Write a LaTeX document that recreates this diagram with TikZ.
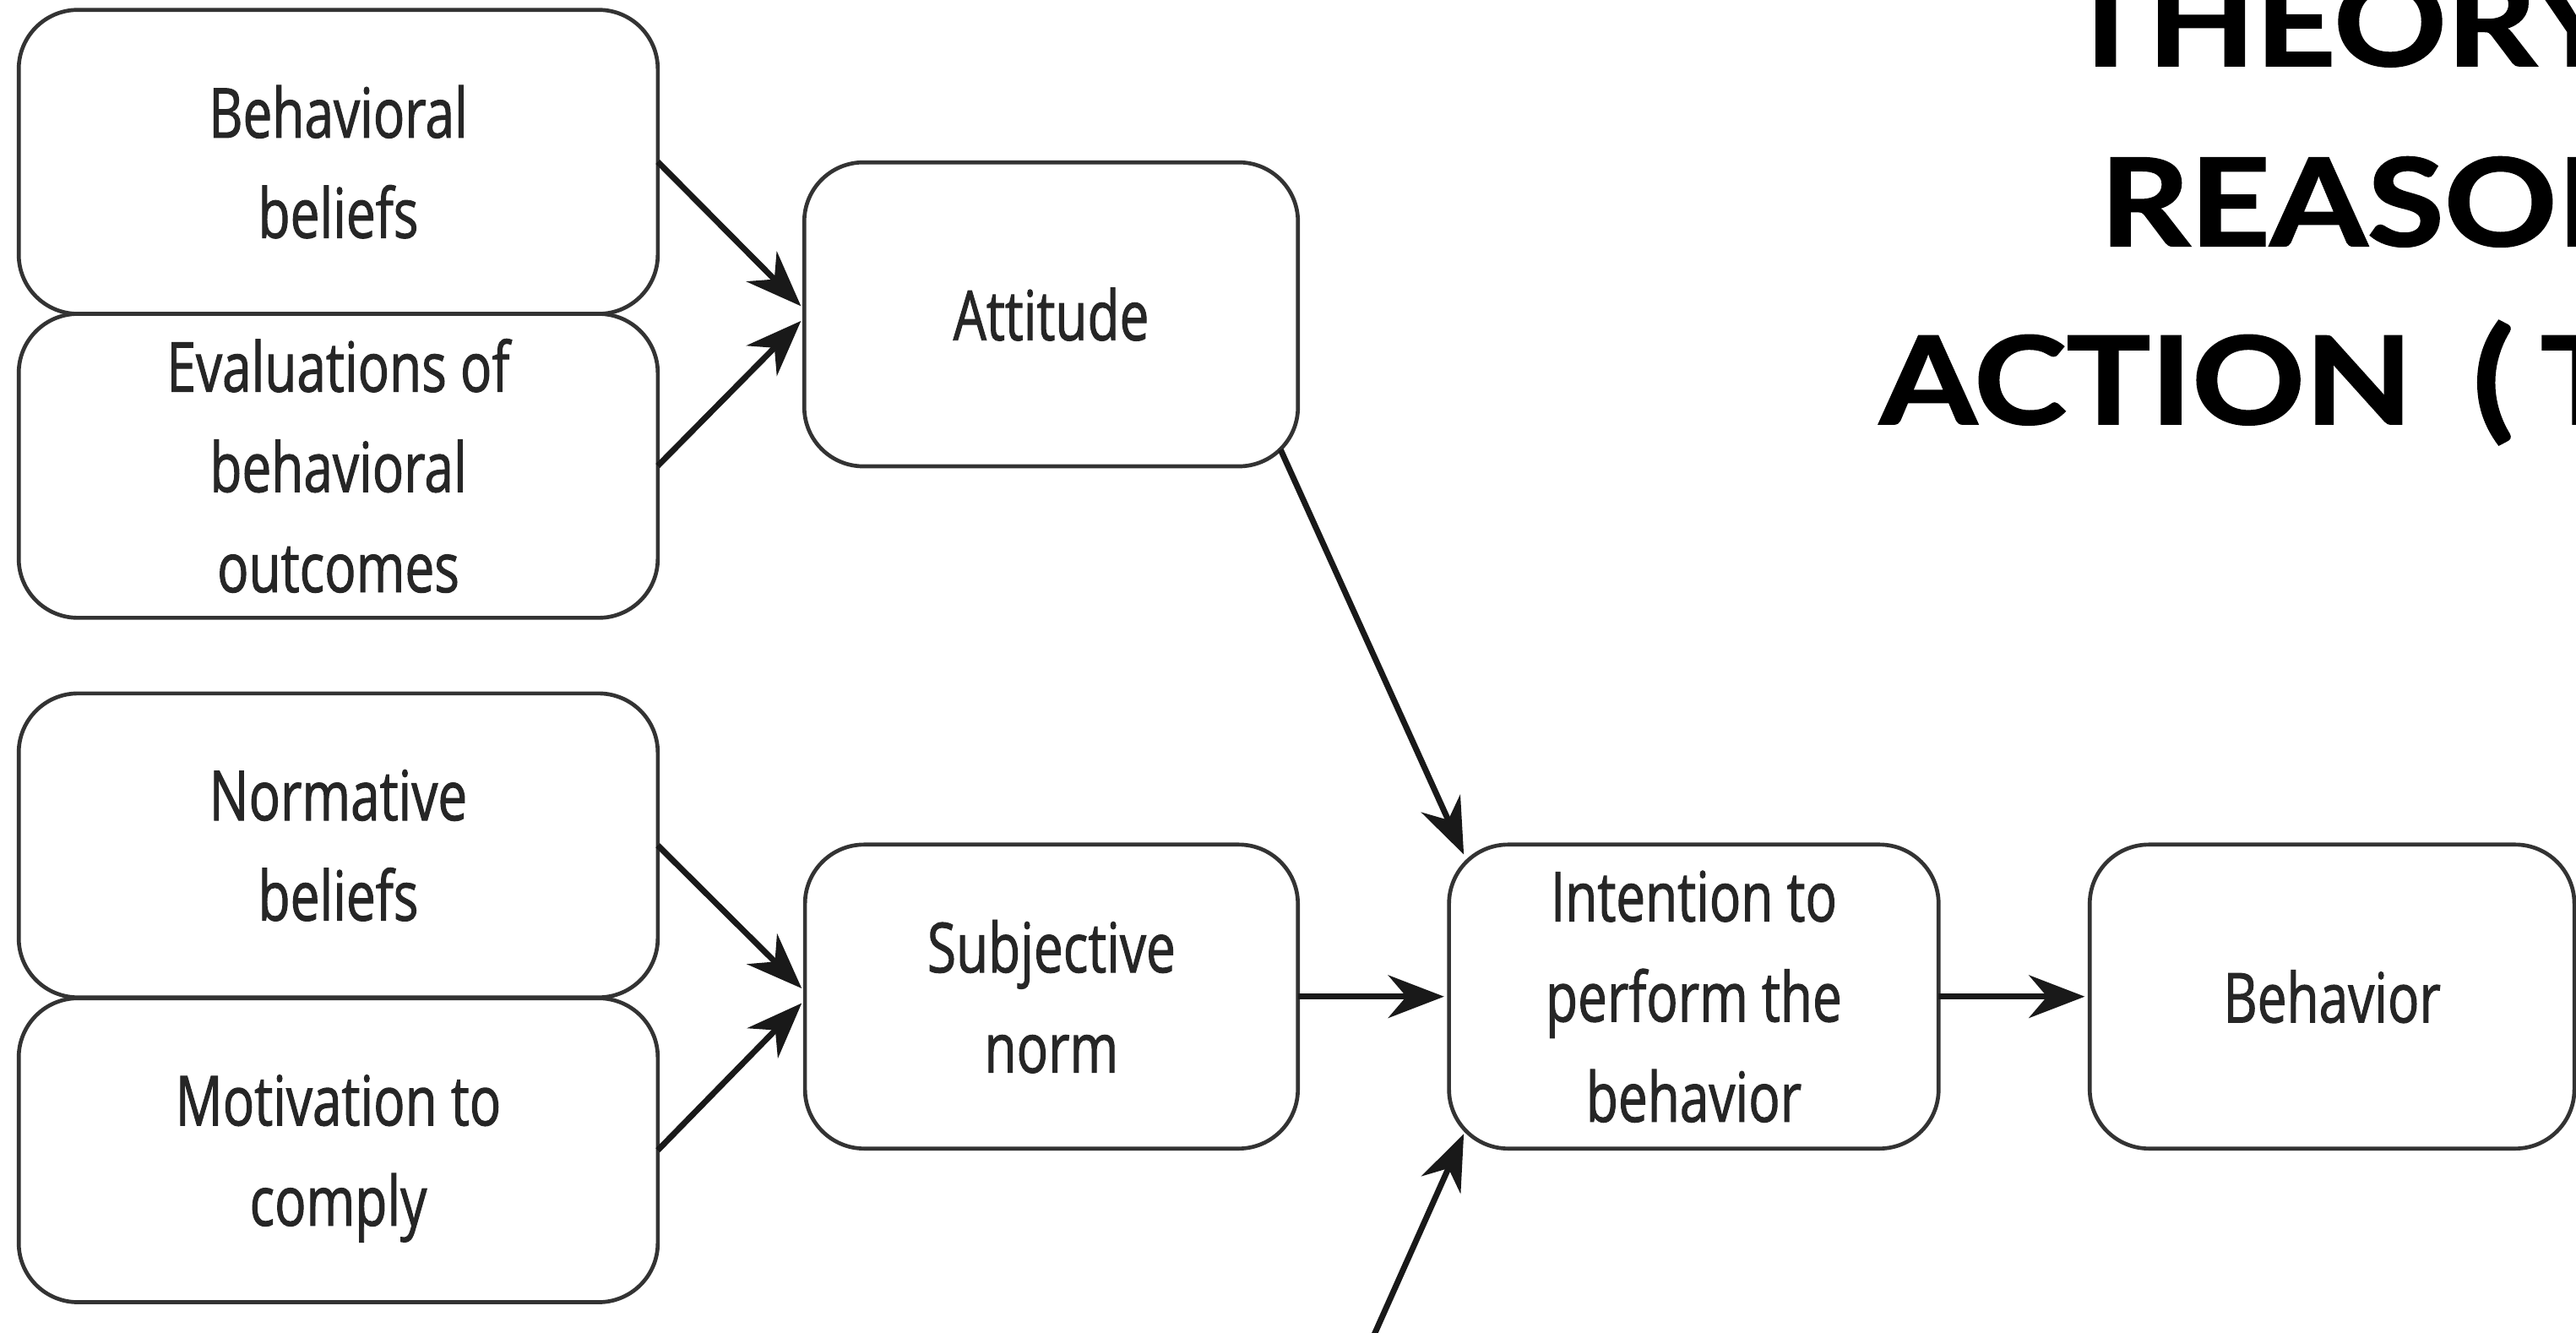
\documentclass[tikz,border=0pt]{standalone}
\usepackage{fontspec}
\usetikzlibrary{arrows.meta,calc}
\newfontfamily\boxfont{Open Sans}[FakeStretch=0.76, FakeBold=1.2]
\newfontfamily\headfont{Lato}[FakeStretch=1.15, FakeBold=1.5]
\definecolor{edge}{HTML}{333333}
\definecolor{ink}{HTML}{262626}
\begin{document}
\begin{tikzpicture}[x=1pt,y=-1pt,
  box/.style={draw=edge, line width=2.4pt, rounded corners=36pt, fill=white,
    minimum width=#1, minimum height=185pt, inner sep=0pt, outer sep=0pt,
    align=center, text=ink, font=\boxfont\fontsize{42}{61}\selectfont},
  box/.default=300pt,
  link/.style={draw=black!90, line width=3.6pt,
    -{Stealth[length=34pt,width=26pt,inset=11pt]}},
  head/.style={anchor=base west, inner sep=0pt, text=black,
    font=\headfont\bfseries\fontsize{74}{74}\selectfont}
]
% page
\fill[white] (0,0) rectangle (1568,811);
\useasboundingbox (0,0) rectangle (1568,811);

% title (runs off the right edge)
\node[head] (t1) at (1256,40) {THEORY};
\node[head] (t2) at (1278,149.6) {REASON};
\node[head] (t3) at (1144,258) {ACTION\kern16pt{} {\fontsize{80}{80}\selectfont(}\kern16pt T};

% belief boxes
\node[box=389pt] (bb) at (205.9,98.5) {Behavioral\\beliefs};
\node[box=389pt] (ev) at (205.9,283.5) {Evaluations of\\behavioral\\outcomes};
\node[box=389pt] (nb) at (205.9,514.5) {Normative\\beliefs};
\node[box=389pt] (mc) at (205.9,700) {Motivation to\\\smash{comply}};

% middle column
\node[box=300.5pt] (att) at (639.8,191.3) {Attitude};
\node[box=300pt] (sub) at (640,606.5) {Subjective\\norm};

% intention and behaviour
\node[box=298pt] (int) at (1031,606.5) {Intention to\\perform the\\behavior};
\node[box=295pt] (beh) at (1419.5,606.5) {Behavior};

% connectors
\draw[link] (bb.east) -- ([xshift=-2pt,yshift=5pt]att.west);
\draw[link] (ev.east) -- ([xshift=-2pt,yshift=-4pt]att.west);
\draw[link] (nb.east) -- ([xshift=-2pt,yshift=5pt]sub.west);
\draw[link] (mc.east) -- ([xshift=-2pt,yshift=-4pt]sub.west);
\draw[link] (sub.east) -- ([xshift=-3pt]int.west);
\draw[link] (int.east) -- ([xshift=-3pt]beh.west);
\draw[link] ([xshift=-10.5pt,yshift=10pt]att.south east) -- ([xshift=9pt,yshift=-6pt]int.north west);
\coordinate (src) at (833,820);
\draw[link] (src) -- ([xshift=9pt,yshift=9pt]int.south west);
\end{tikzpicture}
\end{document}
